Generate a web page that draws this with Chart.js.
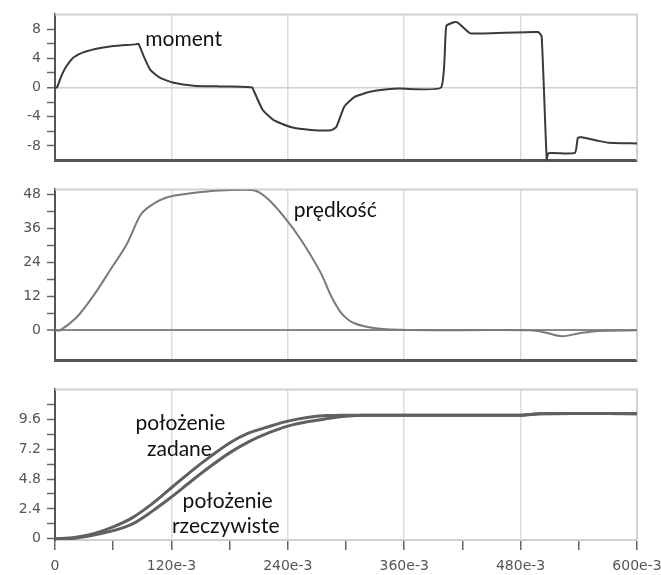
<!DOCTYPE html>
<html>
<head>
<meta charset="utf-8">
<script src="https://cdn.jsdelivr.net/npm/chart.js@4/dist/chart.umd.min.js"></script>
<style>
  body { margin: 0; background: #fff; }
  #wrap { position: relative; width: 661px; height: 575px; }
  canvas { position: absolute; left: 0; }
</style>
</head>
<body>
<div id="wrap">
  <canvas id="c1" width="661" height="175" style="top:0px"></canvas>
  <canvas id="c2" width="661" height="200" style="top:175px"></canvas>
  <canvas id="c3" width="661" height="200" style="top:375px"></canvas>
</div>
<script>
// shared x axis (time, s)
const xTicks = [0, 0.06, 0.12, 0.18, 0.24, 0.30, 0.36, 0.42, 0.48, 0.54, 0.60];
const xLabels = ["0", "", "120e-3", "", "240e-3", "", "360e-3", "", "480e-3", "", "600e-3"];

// moment
const tMoment = [0, 0.002, 0.006, 0.0103, 0.015, 0.019, 0.029, 0.0466, 0.0638, 0.0828, 0.086, 0.0914, 0.0983,
  0.1086, 0.1224, 0.143, 0.17, 0.191, 0.2017, 0.2034, 0.2138, 0.2259, 0.2431, 0.2638, 0.2845, 0.29, 0.2983,
  0.3086, 0.326, 0.3535, 0.398, 0.4034, 0.412, 0.4155, 0.4276, 0.44, 0.498, 0.5017, 0.5069, 0.5086, 0.536,
  0.539, 0.543, 0.5603, 0.5707, 0.6];
const moment = [0, 0, 1.4, 2.6, 3.5, 4.1, 4.8, 5.4, 5.7, 5.9, 6.0, 4.3, 2.4,
  1.3, 0.65, 0.25, 0.15, 0.1, 0.05, 0, -3.0, -4.5, -5.4, -5.8, -5.85, -5.4, -2.6,
  -1.3, -0.55, -0.15, 0, 8.4, 8.95, 8.85, 7.45, 7.4, 7.6, 7.0, -9.9, -9.0, -8.95,
  -6.9, -6.8, -7.3, -7.55, -7.65];
const momentTicks = [-8, -6, -4, -2, 0, 2, 4, 6, 8];

// prędkość
const tSpeed = [0, 0.0052, 0.0224, 0.0396, 0.0569, 0.0741, 0.088, 0.0983, 0.1155, 0.1362, 0.157, 0.18, 0.205,
  0.219, 0.236, 0.2534, 0.274, 0.2845, 0.295, 0.3086, 0.3328, 0.37, 0.42, 0.49, 0.505, 0.5224, 0.5397, 0.56, 0.6];
const speed = [0, 0, 4.6, 12.2, 21.3, 30.5, 40.7, 44, 47, 48.3, 49.1, 49.6, 49.5,
  46.6, 40.2, 32.1, 20.3, 12.2, 6.2, 2.5, 0.65, 0.1, 0.05, 0, -0.75, -2.1, -1.1, -0.2, 0];
const speedTicks = [0, 6, 12, 18, 24, 30, 36, 42, 48];

// położenie
const tPos = [0, 0.02, 0.04, 0.06, 0.08, 0.10, 0.12, 0.14, 0.16, 0.18, 0.20, 0.22, 0.24, 0.26, 0.28, 0.30,
  0.32, 0.48, 0.50, 0.60];
const posZadane = [0, 0.1, 0.4, 0.95, 1.7, 2.8, 4.1, 5.4, 6.6, 7.7, 8.5, 9.0, 9.45, 9.75, 9.9, 9.93,
  9.93, 9.93, 10.05, 10.05];
const posRzecz = [0, 0.05, 0.3, 0.65, 1.2, 2.2, 3.35, 4.6, 5.8, 6.9, 7.8, 8.5, 9.05, 9.4, 9.65, 9.85,
  9.93, 9.93, 10.05, 10.05];
const posTicks = [0, 1.2, 2.4, 3.6, 4.8, 6.0, 7.2, 8.4, 9.6, 10.8];

function pts(xs, ys) {
  return xs.map((x, i) => ({ x: x, y: ys[i] }));
}

const tickFont = { family: "DejaVu Sans", size: 14 };

// light frame on top/right + text labels
const framePlugin = {
  id: "frame",
  beforeDatasetsDraw(chart) {
    const a = chart.chartArea;
    const ctx = chart.ctx;
    ctx.save();
    ctx.strokeStyle = "#d0d0d0";
    ctx.lineWidth = 2;
    ctx.beginPath();
    ctx.moveTo(a.left, a.top);
    ctx.lineTo(a.right, a.top);
    ctx.lineTo(a.right, a.bottom);
    ctx.stroke();
    ctx.restore();
  },
  afterDatasetsDraw(chart, args, opts) {
    const ctx = chart.ctx;
    const xs = chart.scales.x, ys = chart.scales.y;
    ctx.save();
    ctx.font = "21px Lato";
    ctx.fillStyle = "#111";
    ctx.textBaseline = "alphabetic";
    (opts.texts || []).forEach((t) => {
      ctx.textAlign = t.align || "left";
      ctx.fillText(t.text, xs.getPixelForValue(t.x), ys.getPixelForValue(t.y));
    });
    ctx.restore();
  }
};

function makePanel(id, cfg) {
  const xAxis = {
    type: "linear",
    min: 0,
    max: 0.6,
    afterBuildTicks: (s) => { s.ticks = xTicks.map((v) => ({ value: v })); },
    afterFit: (s) => { s.height = cfg.xHeight; s.paddingLeft = 0; s.paddingRight = 0; },
    border: { color: cfg.xBorderColor, width: cfg.xBorderWidth },
    grid: {
      color: (c) => (c.tick && c.index % 2 == 0 && c.index > 0 ? "#dcdcdc" : "rgba(0,0,0,0)"),
      lineWidth: 1.5,
      drawTicks: cfg.showX,
      tickLength: 10,
      tickColor: "#666",
      tickWidth: 1.5
    },
    ticks: {
      display: cfg.showX,
      autoSkip: false,
      maxRotation: 0,
      padding: 8,
      color: "#555",
      font: tickFont,
      callback: (v, i) => xLabels[i]
    }
  };
  const yAxis = {
    min: cfg.yMin,
    max: cfg.yMax,
    afterBuildTicks: (s) => { s.ticks = cfg.yTicks.map((v) => ({ value: v })); },
    afterFit: (s) => { s.width = 55; },
    border: { color: "#555", width: 2 },
    grid: {
      color: (c) => (c.tick && c.tick.value == 0 ? cfg.zeroColor : "rgba(0,0,0,0)"),
      lineWidth: (c) => (c.tick && c.tick.value == 0 ? cfg.zeroWidth : 1),
      tickLength: 8,
      tickColor: "#666",
      tickWidth: 1.5
    },
    ticks: {
      autoSkip: false,
      padding: 6,
      color: "#555",
      font: tickFont,
      callback: (v) => (cfg.yLabels.includes(v) ? String(v) : "")
    }
  };
  new Chart(document.getElementById(id), {
    type: "line",
    data: { datasets: cfg.datasets },
    options: {
      responsive: false,
      animation: false,
      devicePixelRatio: 1,
      layout: { padding: { top: cfg.padTop, right: 24, left: 0, bottom: 0 } },
      elements: { point: { radius: 0 }, line: { tension: 0.3, borderCapStyle: "round", borderJoinStyle: "round" } },
      plugins: { legend: { display: false }, tooltip: { enabled: false }, frame: { texts: cfg.texts } },
      scales: { x: xAxis, y: yAxis }
    },
    plugins: [framePlugin]
  });
}

makePanel("c1", {
  padTop: 13, xHeight: 7, showX: false, xBorderColor: "#555", xBorderWidth: 3,
  yMin: -10, yMax: 10, yTicks: momentTicks, yLabels: [-8, -4, 0, 4, 8],
  zeroColor: "#d0d0d0", zeroWidth: 1.5,
  texts: [{ text: "moment", x: 0.0931, y: 5.65 }],
  datasets: [{ data: pts(tMoment, moment), borderColor: "#3a3a3a", borderWidth: 2, tension: 0.15 }]
});

makePanel("c2", {
  padTop: 7, xHeight: 6, showX: false, xBorderColor: "#555", xBorderWidth: 3,
  yMin: -10.7, yMax: 49.8, yTicks: speedTicks, yLabels: [0, 12, 24, 36, 48],
  zeroColor: "#888", zeroWidth: 2,
  texts: [{ text: "prędkość", x: 0.2462, y: 40.1 }],
  datasets: [{ data: pts(tSpeed, speed), borderColor: "#7a7a7a", borderWidth: 2 }]
});

makePanel("c3", {
  padTop: 7, xHeight: 35, showX: true, xBorderColor: "#d0d0d0", xBorderWidth: 2,
  yMin: -0.1, yMax: 12, yTicks: posTicks, yLabels: [0, 2.4, 4.8, 7.2, 9.6],
  zeroColor: "rgba(0,0,0,0)", zeroWidth: 1,
  texts: [
    { text: "położenie", x: 0.1293, y: 8.7 },
    { text: "zadane", x: 0.1283, y: 6.65 },
    { text: "położenie", x: 0.178, y: 2.45 },
    { text: "rzeczywiste", x: 0.176, y: 0.45 }
  ].map((t) => Object.assign(t, { align: "center" })),
  datasets: [
    { data: pts(tPos, posZadane), borderColor: "#606060", borderWidth: 3 },
    { data: pts(tPos, posZadane), borderColor: "#e4e4e4", borderWidth: 1 },
    { data: pts(tPos, posRzecz), borderColor: "#606060", borderWidth: 3 },
    { data: pts(tPos, posRzecz), borderColor: "#e4e4e4", borderWidth: 1 }
  ]
});
</script>
</body>
</html>
